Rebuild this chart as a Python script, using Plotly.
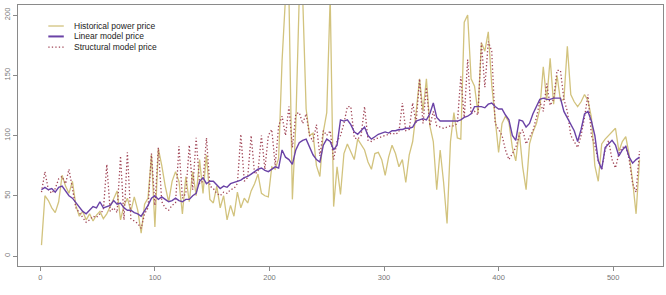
import plotly.graph_objects as go

x_idx = list(range(1, 524, 3))

historical = [
    9, 50, 46, 40, 36, 45, 67, 58, 52, 62,
    42, 33, 37, 30, 35, 29, 34, 37, 31, 35,
    41, 47, 54, 30, 42, 48, 37, 49, 38, 19,
    43, 48, 84, 24, 89, 75, 58, 45, 62, 70,
    62, 35, 66, 45, 70, 50, 80, 52, 84, 47,
    44, 58, 40, 50, 30, 42, 33, 53, 40, 48,
    44, 54, 60, 68, 52, 50, 49, 74, 72, 81,
    162, 215, 215, 47, 110, 215, 215, 122, 100, 102,
    75, 66, 103, 119, 215, 41, 74, 51, 85, 93,
    86, 80, 97, 92, 88, 78, 72, 85, 86, 80,
    67, 82, 92, 85, 74, 80, 61, 84, 95, 119,
    147, 120, 147, 108, 95, 55, 88, 61, 27, 95,
    119, 98, 97, 194, 200, 147, 141, 119, 177, 170,
    186, 142, 115, 86, 110, 116, 111, 90, 79, 103,
    74, 55, 93, 103, 110, 122, 157, 129, 164, 126,
    150, 129, 130, 174, 134, 128, 124, 128, 134, 129,
    115, 75, 62, 93, 97, 100, 103, 106, 87, 95,
    99, 84, 62, 35, 80,
]

linear = [
    55, 57, 55, 56, 53, 57, 58, 54, 50, 48,
    44, 40, 37, 35, 38, 41, 40, 45, 40, 41,
    42, 46, 43, 44, 40, 38, 38, 36, 35, 33,
    37, 42, 48, 50, 47, 49, 47, 45, 46, 48,
    46, 45, 47, 47, 50, 52, 62, 65, 60, 62,
    62, 59, 56, 58, 57, 60, 61, 62, 63, 65,
    66, 68, 70, 72, 73, 71, 70, 72, 74, 73,
    88, 82, 80, 76, 88, 94, 96, 97, 91, 84,
    80, 78, 92, 97, 95, 88, 92, 113, 112, 113,
    109, 103, 101, 104, 107, 100, 97, 99, 101, 102,
    103, 102, 104, 104, 105, 105, 106, 106, 107, 112,
    113, 114, 113, 118, 127, 115, 112, 112, 112, 112,
    112, 112, 113, 115, 116, 118, 124, 124, 124, 123,
    126, 127, 124, 122, 122, 117, 113, 100, 96, 113,
    112, 107, 110, 118, 124, 130, 131, 130, 130, 131,
    131, 131, 120, 115, 109, 104, 95, 105, 118, 120,
    112, 100, 79, 72, 90, 93, 96, 92, 83, 88,
    91, 82, 77, 80, 82,
]

structural = [
    53, 70, 55, 52, 56, 64, 66, 60, 72, 55,
    40, 36, 32, 28, 30, 33, 32, 35, 38, 76,
    37, 40, 36, 83, 30, 86, 31, 29, 27, 23,
    35, 40, 85, 42, 90, 45, 40, 38, 42, 44,
    91, 48, 52, 92, 55, 98, 60, 62, 98, 58,
    56, 52, 50, 53, 52, 55, 56, 60, 101, 62,
    65, 100, 68, 70, 100, 72, 100, 105, 75, 108,
    116, 100, 124, 90, 118, 119, 110, 118, 100, 95,
    109, 83, 104, 100, 104, 80, 95, 100, 110, 124,
    124, 98, 97, 100, 124, 96, 95, 97, 98, 99,
    100, 101, 102, 101, 103, 127, 104, 105, 127, 110,
    147, 110, 140, 108, 120, 108, 107, 106, 107, 108,
    108, 110, 149, 115, 163, 118, 120, 117, 177, 140,
    178, 170, 110, 105, 100, 88, 80, 85, 90, 100,
    105, 93, 98, 104, 115, 128, 120, 143, 125, 130,
    154, 154, 130, 120, 100, 95, 90, 100, 115, 134,
    100, 92, 79, 72, 88, 96, 80, 73, 85, 90,
    91, 80, 60, 53, 87,
]

legend_labels = ["Historical power price", "Linear model price", "Structural model price"]
x_ticks = [0, 100, 200, 300, 400, 500]
y_ticks = [0, 50, 100, 150, 200]

c_hist = "#D2C37E"
c_lin = "#6A42A6"
c_str = "#A04556"
dot_style = "1.3px,2.2px"

fig = go.Figure()
fig.add_trace(go.Scatter(x=x_idx, y=historical, mode="lines",
                         line=dict(color=c_hist, width=1.3), showlegend=False))
fig.add_trace(go.Scatter(x=x_idx, y=structural, mode="lines",
                         line=dict(color=c_str, width=1.3, dash=dot_style), showlegend=False))
fig.add_trace(go.Scatter(x=x_idx, y=linear, mode="lines",
                         line=dict(color=c_lin, width=1.4), showlegend=False))

# manual legend (R style)
styles = [dict(color=c_hist, width=1.3), dict(color=c_lin, width=2),
          dict(color=c_str, width=1.3, dash=dot_style)]
rows = [0.9195, 0.8795, 0.8385]
for lab, st, yy in zip(legend_labels, styles, rows):
    fig.add_shape(type="line", xref="paper", yref="paper",
                  x0=0.047, x1=0.071, y0=yy, y1=yy, line=st)
    fig.add_annotation(xref="paper", yref="paper", x=0.084, y=yy, text=lab,
                       showarrow=False, xanchor="left", yanchor="middle",
                       font=dict(family="Liberation Sans, Arial", size=8.5, color="#222"))

axis_common = dict(showline=True, linecolor="#8a8a8a", linewidth=1, mirror=True,
                   ticks="outside", ticklen=4, tickcolor="#8a8a8a",
                   showgrid=False, zeroline=False,
                   tickfont=dict(family="Liberation Sans, Arial", size=7.5, color="#777"))

fig.update_xaxes(range=[-19.5, 543.5], tickvals=x_ticks,
                 ticktext=[str(v) for v in x_ticks], **axis_common)
fig.update_yaxes(range=[-8.3, 208.3], tickvals=y_ticks,
                 ticktext=[str(v) for v in y_ticks], tickangle=-90, **axis_common)

fig.update_layout(width=666, height=295, margin=dict(l=18, r=3, t=5, b=29),
                  paper_bgcolor="white", plot_bgcolor="white")

fig.write_html("out.html")
